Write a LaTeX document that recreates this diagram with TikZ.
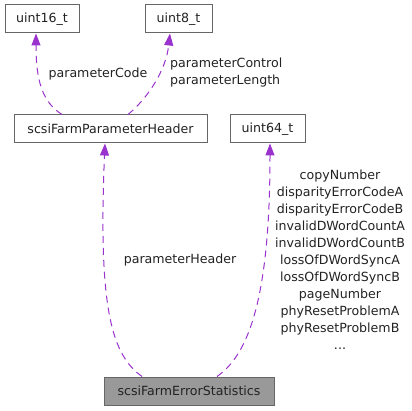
\documentclass[tikz,border=0pt]{standalone}
\usepackage{fontspec}
\setmainfont{DejaVu Sans}
\usetikzlibrary{arrows.meta}
\definecolor{edgec}{HTML}{9A32CD}
\definecolor{boxline}{HTML}{666666}
\definecolor{boxfill}{HTML}{999999}
\definecolor{txt}{HTML}{222222}
\tikzset{
  cls/.style={draw=boxline, line width=1pt, fill=white, minimum height=28pt, inner sep=0pt, text=txt, font=\fontsize{12.6pt}{15pt}\selectfont},
  dep/.style={draw=edgec, line width=1pt, dashed, dash pattern=on 7pt off 5pt, -{Triangle[length=12pt,width=9pt]}},
  lbl/.style={font=\fontsize{12.6pt}{17pt}\selectfont, text=txt, inner sep=0pt, align=center}
}
\begin{document}
\begin{tikzpicture}[x=1pt,y=-1pt]
\useasboundingbox (0,0) rectangle (412,411);
\node[cls, minimum width=74pt] (u16) at (42,19) {uint16\_t};
\node[cls, minimum width=67pt] (u8) at (178.5,19) {uint8\_t};
\node[cls, minimum width=193pt] (hdr) at (110.5,129) {scsiFarmParameterHeader};
\node[cls, minimum width=75pt] (u64) at (267.5,129) {uint64\_t};
\node[cls, minimum width=170pt, fill=boxfill] (err) at (189,391) {scsiFarmErrorStatistics};

\draw[dep] ([xshift=-48.5pt]hdr.north) .. controls (42,102) and (36,80) .. ([xshift=-6pt]u16.south);
\draw[dep] ([xshift=17.5pt]hdr.north) .. controls (148,98) and (166,70) .. ([xshift=-8.5pt]u8.south);
\draw[dep] ([xshift=-47pt]err.north) .. controls (112,355) and (98,310) .. ([xshift=-5.5pt]hdr.south);
\draw[dep] ([xshift=28pt]err.north) .. controls (248,355) and (270,300) .. ([xshift=2.5pt]u64.south);

\node[lbl] (l1) at (98,74) {parameterCode};
\node[lbl, align=left, anchor=west] (l2) at (170,73) {parameterControl\\parameterLength};
\node[lbl] (l3) at (180,260) {parameterHeader};
\node[lbl, anchor=north] (l4) at (340,170) {copyNumber\\disparityErrorCodeA\\disparityErrorCodeB\\invalidDWordCountA\\invalidDWordCountB\\lossOfDWordSyncA\\lossOfDWordSyncB\\pageNumber\\phyResetProblemA\\phyResetProblemB\\...};
\end{tikzpicture}
\end{document}
